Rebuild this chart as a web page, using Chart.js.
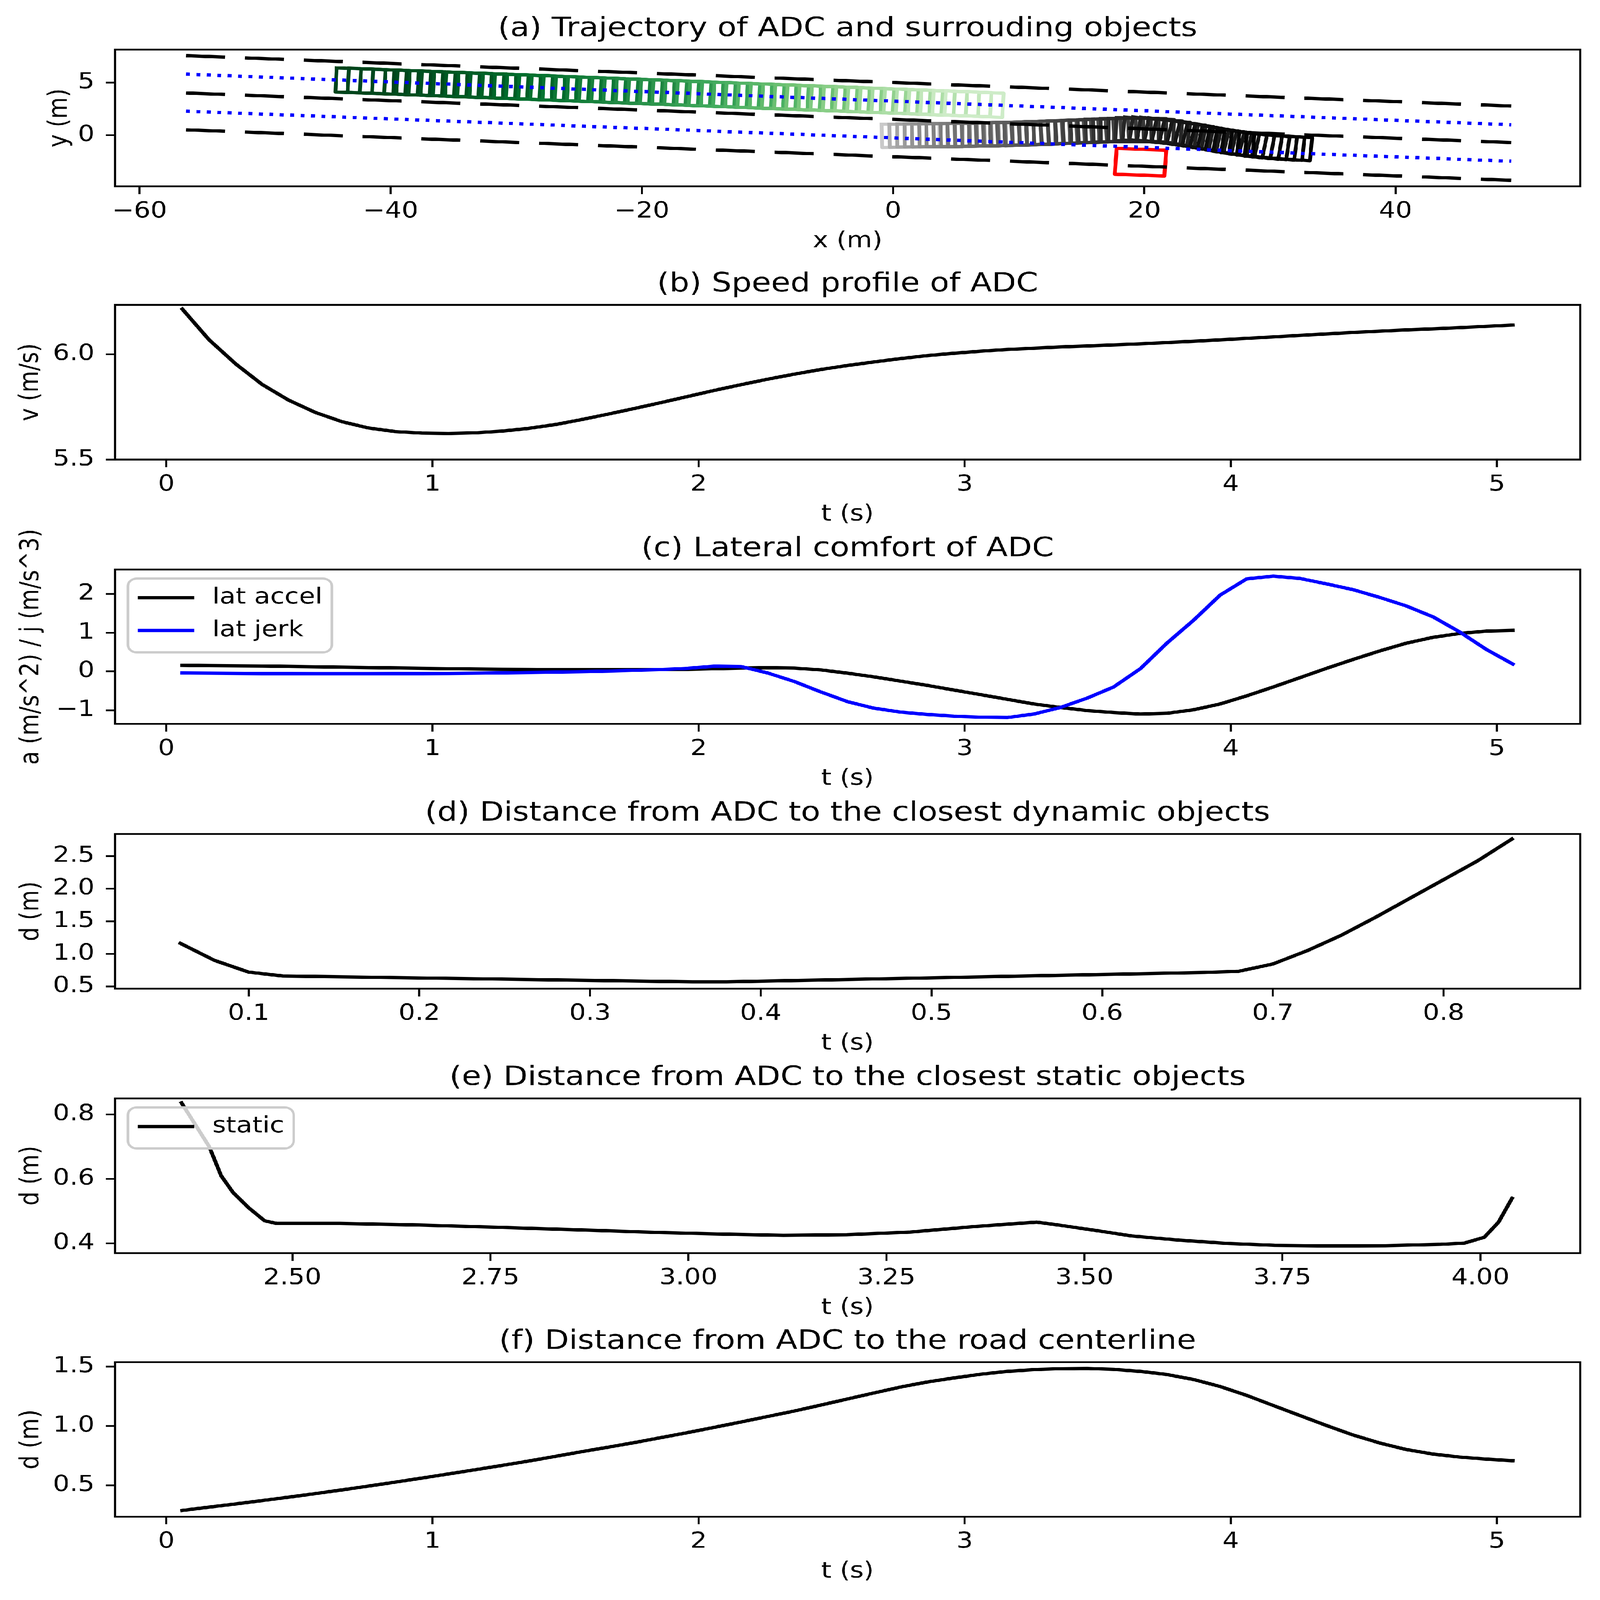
<!DOCTYPE html>
<html>
<head>
<meta charset="utf-8">
<script src="https://cdn.jsdelivr.net/npm/chart.js@4.4.1/dist/chart.umd.min.js"></script>
<style>
  html, body { margin: 0; padding: 0; background: #fff; overflow: hidden; }
  #page { position: absolute; left: 0; top: 0; width: 5078px; height: 6009px; transform-origin: 0 0; background: #fff; }
  #page canvas { position: absolute; left: 0; }
</style>
</head>
<body>
<div id="page">
<canvas id="cA"></canvas>
<canvas id="cB"></canvas>
<canvas id="cC"></canvas>
<canvas id="cD"></canvas>
<canvas id="cE"></canvas>
<canvas id="cF"></canvas>
</div>
<script>
'use strict';

// time grid of the ADC trajectory (s)
const tGrid = [0.06, 0.16, 0.26, 0.36, 0.46, 0.56, 0.66, 0.76, 0.86, 0.96,
  1.06, 1.16, 1.26, 1.36, 1.46, 1.56, 1.66, 1.76, 1.86, 1.96,
  2.06, 2.16, 2.26, 2.36, 2.46, 2.56, 2.66, 2.76, 2.86, 2.96,
  3.06, 3.16, 3.26, 3.36, 3.46, 3.56, 3.66, 3.76, 3.86, 3.96,
  4.06, 4.16, 4.26, 4.36, 4.46, 4.56, 4.66, 4.76, 4.86, 4.96, 5.06];

// (b) speed
const speed = [6.215, 6.07, 5.955, 5.857, 5.782, 5.724, 5.68, 5.65, 5.633, 5.626,
  5.624, 5.627, 5.635, 5.648, 5.666, 5.69, 5.716, 5.743, 5.771, 5.8,
  5.829, 5.856, 5.882, 5.906, 5.928, 5.947, 5.964, 5.98, 5.994, 6.005,
  6.015, 6.023, 6.029, 6.035, 6.04, 6.045, 6.05, 6.056, 6.062, 6.069,
  6.076, 6.083, 6.09, 6.097, 6.104, 6.11, 6.116, 6.121, 6.127, 6.133, 6.139];

// (c) lateral comfort
const latAccel = [0.16, 0.15, 0.145, 0.14, 0.13, 0.12, 0.11, 0.10, 0.09, 0.08,
  0.072, 0.063, 0.057, 0.052, 0.048, 0.046, 0.046, 0.047, 0.05, 0.055,
  0.07, 0.085, 0.095, 0.085, 0.04, -0.045, -0.14, -0.25, -0.36, -0.48,
  -0.60, -0.72, -0.84, -0.93, -1.01, -1.06, -1.10, -1.08, -0.99, -0.84,
  -0.63, -0.40, -0.16, 0.08, 0.31, 0.53, 0.73, 0.88, 0.98, 1.04, 1.06];
const latJerk = [-0.04, -0.045, -0.05, -0.055, -0.058, -0.06, -0.06, -0.06, -0.058, -0.055,
  -0.052, -0.045, -0.037, -0.028, -0.018, -0.005, 0.01, 0.028, 0.05, 0.08,
  0.135, 0.125, -0.04, -0.26, -0.53, -0.78, -0.95, -1.05, -1.11, -1.155,
  -1.18, -1.19, -1.10, -0.93, -0.69, -0.40, 0.07, 0.73, 1.32, 1.97,
  2.39, 2.46, 2.40, 2.26, 2.11, 1.91, 1.69, 1.41, 1.02, 0.57, 0.19];

// (d) closest dynamic object
const dynT = [0.06, 0.08, 0.10, 0.12, 0.36, 0.38, 0.66, 0.68, 0.70, 0.72, 0.74, 0.76, 0.78, 0.80, 0.82, 0.84];
const dynD = [1.162, 0.90, 0.72, 0.66, 0.57, 0.57, 0.714, 0.733, 0.845, 1.048, 1.285, 1.56, 1.85, 2.14, 2.43, 2.763];

// (e) closest static object
const staticT = [2.36, 2.395, 2.41, 2.425, 2.445, 2.465, 2.48, 2.56, 2.66, 2.76, 2.86, 2.96, 3.04, 3.12, 3.20,
  3.28, 3.36, 3.44, 3.47, 3.52, 3.56, 3.62, 3.68, 3.74, 3.81, 3.88, 3.95, 3.98, 4.005, 4.023, 4.04];
const staticD = [0.836, 0.70, 0.61, 0.558, 0.51, 0.47, 0.462, 0.462, 0.457, 0.450, 0.442, 0.434, 0.429, 0.425, 0.427,
  0.435, 0.452, 0.466, 0.456, 0.438, 0.423, 0.41, 0.40, 0.394, 0.392, 0.393, 0.397, 0.401, 0.419, 0.466, 0.54];

// (f) distance to road centerline
const centerDist = [0.29, 0.318, 0.345, 0.373, 0.402, 0.432, 0.463, 0.495, 0.528, 0.562,
  0.597, 0.632, 0.668, 0.705, 0.744, 0.784, 0.822, 0.861, 0.903, 0.945,
  0.989, 1.034, 1.08, 1.126, 1.176, 1.227, 1.278, 1.328, 1.37, 1.404,
  1.435, 1.459, 1.474, 1.482, 1.484, 1.476, 1.459, 1.433, 1.391, 1.332,
  1.257, 1.172, 1.088, 1.004, 0.924, 0.857, 0.802, 0.764, 0.739, 0.722, 0.708];

// (a) road lines, end points
const laneX = [-56.3, 49.2];
const laneTop = [7.57, 2.78];
const laneMid = [4.02, -0.69];
const laneBot = [0.52, -4.28];
const refUpper = [5.81, 1.0];
const refLower = [2.29, -2.47];

// (a) surrounding vehicle box centres
const greenX = [-42.05, -41.08, -40.11, -39.14, -38.17, -37.20, -36.23, -35.26, -34.29, -33.32,
  -32.35, -31.38, -30.41, -29.44, -28.47, -27.50, -26.53, -25.56, -24.59, -23.62,
  -22.65, -21.68, -20.71, -19.74, -18.77, -17.80, -16.83, -15.86, -14.89, -13.92,
  -12.95, -11.98, -11.01, -10.04, -9.07, -8.10, -7.13, -6.16, -5.19, -4.22,
  -3.25, -2.28, -1.31, -0.34, 0.63, 1.60, 2.57, 3.54, 4.51, 5.48, 6.45];
const greenY = [5.16, 5.12, 5.07, 5.03, 4.99, 4.94, 4.90, 4.85, 4.81, 4.77,
  4.72, 4.68, 4.63, 4.59, 4.55, 4.50, 4.46, 4.41, 4.37, 4.33,
  4.28, 4.24, 4.19, 4.15, 4.11, 4.06, 4.02, 3.97, 3.93, 3.89,
  3.84, 3.80, 3.75, 3.71, 3.67, 3.62, 3.58, 3.53, 3.49, 3.45,
  3.40, 3.36, 3.31, 3.27, 3.23, 3.18, 3.14, 3.09, 3.05, 3.01, 2.96];

// (a) ADC box centres
const adcX = [1.40, 2.02, 2.63, 3.22, 3.81, 4.39, 4.96, 5.53, 6.10, 6.66,
  7.22, 7.78, 8.35, 8.91, 9.48, 10.04, 10.61, 11.18, 11.76, 12.33,
  12.91, 13.50, 14.08, 14.67, 15.26, 15.85, 16.45, 17.04, 17.64, 18.24,
  18.84, 19.44, 20.04, 20.65, 21.25, 21.85, 22.46, 23.06, 23.67, 24.27,
  24.88, 25.49, 26.10, 26.70, 27.31, 27.92, 28.54, 29.15, 29.76, 30.37, 30.98];
const adcY = [-0.02, -0.01, 0.00, 0.00, 0.01, 0.02, 0.03, 0.04, 0.05, 0.065,
  0.08, 0.09, 0.11, 0.125, 0.14, 0.16, 0.18, 0.20, 0.23, 0.25,
  0.28, 0.30, 0.33, 0.36, 0.39, 0.41, 0.44, 0.46, 0.48, 0.49,
  0.50, 0.50, 0.49, 0.45, 0.39, 0.31, 0.22, 0.12, 0.01, -0.11,
  -0.23, -0.35, -0.47, -0.58, -0.69, -0.79, -0.88, -0.96, -1.03, -1.09, -1.14];

// (a) static obstacle outline
const obstX = [17.8, 21.75, 21.6, 17.65, 17.8];
const obstY = [-1.25, -1.42, -3.87, -3.7, -1.25];

// tick values
const ticksAx = [-60, -40, -20, 0, 20, 40];
const ticksAy = [0, 5];
const ticksT = [0, 1, 2, 3, 4, 5];
const ticksBy = [5.5, 6.0];
const ticksCy = [-1, 0, 1, 2];
const ticksDx = [0.1, 0.2, 0.3, 0.4, 0.5, 0.6, 0.7, 0.8];
const ticksDy = [0.5, 1.0, 1.5, 2.0, 2.5];
const ticksEx = [2.5, 2.75, 3.0, 3.25, 3.5, 3.75, 4.0];
const ticksEy = [0.4, 0.6, 0.8];
const ticksFy = [0.5, 1.0, 1.5];

// sizes
const carLen = 4.6, greenWid = 2.3, adcWid = 2.2;

// the browser window may be smaller than 5078 x 6009: stretch the page onto it
document.getElementById('page').style.transform =
  'scale(' + (window.innerWidth / 5078) + ',' + (window.innerHeight / 6009) + ')';

const FONT = "'DejaVu Sans'";
Chart.defaults.font.family = FONT;
Chart.defaults.color = '#000';

const GREENS = [[247,252,245],[229,245,224],[199,233,192],[161,217,155],[116,196,118],[65,171,93],[35,139,69],[0,109,44],[0,68,27]];
const GREYS = [[255,255,255],[240,240,240],[217,217,217],[189,189,189],[150,150,150],[115,115,115],[82,82,82],[37,37,37],[0,0,0]];
function cmap(stops, v) {
  const n = stops.length - 1;
  const p = Math.min(Math.max(v, 0), 1) * n;
  const k = Math.min(Math.floor(p), n - 1);
  const f = p - k;
  const c = stops[k].map((s, j) => Math.round(s + (stops[k + 1][j] - s) * f));
  return 'rgb(' + c.join(',') + ')';
}

function fmt(v, dec) {
  const s = Math.abs(v).toFixed(dec);
  return (v < 0 ? '\u2212' : '') + s;
}

const pts = (xs, ys) => xs.map((x, i) => ({x: x, y: ys[i]}));

// rectangle outline around a centre, heading taken from neighbouring centres
function boxes(xs, ys, len, wid) {
  return xs.map((cx, i) => {
    const a = Math.max(i - 1, 0), b = Math.min(i + 1, xs.length - 1);
    let hx = xs[b] - xs[a], hy = ys[b] - ys[a];
    const n = Math.hypot(hx, hy); hx /= n; hy /= n;
    const px = -hy, py = hx, l = len / 2, w = wid / 2;
    return [[-l, w], [l, w], [l, -w], [-l, -w], [-l, w]]
      .map(([u, v]) => ({x: cx + u * hx + v * px, y: ys[i] + u * hy + v * py}));
  });
}

function lineDs(data, color, width, extra) {
  return Object.assign({
    data: data, showLine: true, borderColor: color, backgroundColor: color,
    borderWidth: width, pointRadius: 0, pointHoverRadius: 0, tension: 0,
    borderCapStyle: 'square', borderJoinStyle: 'round', fill: false
  }, extra || {});
}

const framePlugin = {
  id: 'frame',
  afterDatasetsDraw(chart) {
    const {ctx, chartArea: a} = chart;
    ctx.save();
    ctx.lineWidth = 6.5;
    ctx.strokeStyle = '#000';
    ctx.strokeRect(a.left, a.top, a.right - a.left, a.bottom - a.top);
    ctx.restore();
  }
};

const panelText = {
  id: 'panelText',
  afterDraw(chart, args, o) {
    const {ctx, chartArea: a} = chart;
    ctx.save();
    ctx.fillStyle = '#000';
    ctx.font = '100px ' + FONT;
    ctx.textAlign = 'center';
    ctx.textBaseline = 'alphabetic';
    ctx.fillText(o.title, (a.left + a.right) / 2, a.top - 50);
    ctx.font = '83px ' + FONT;
    ctx.translate(o.ylabX, (a.top + a.bottom) / 2);
    ctx.rotate(-Math.PI / 2);
    ctx.textBaseline = 'middle';
    ctx.fillText(o.ylabel, 0, 0);
    ctx.restore();
  }
};

const boxLegend = {
  id: 'boxLegend',
  afterDraw(chart, args, o) {
    if (!o.items) return;
    const {ctx, chartArea: a} = chart;
    const ds = chart.data.datasets;
    ctx.save();
    ctx.font = '83px ' + FONT;
    const tw = Math.max(...o.items.map(it => ctx.measureText(ds[it].label).width));
    const x0 = a.left + 41, y0 = a.top + 34;
    const w = 298 + tw, h = 72 + 123 * (o.items.length - 1) + 82;
    ctx.beginPath();
    ctx.roundRect(x0, y0, w, h, 28);
    ctx.fillStyle = 'rgba(255,255,255,0.8)';
    ctx.fill();
    ctx.lineWidth = 8;
    ctx.strokeStyle = '#cccccc';
    ctx.stroke();
    o.items.forEach((it, k) => {
      const yy = y0 + 72 + 123 * k;
      ctx.beginPath();
      ctx.moveTo(x0 + 38, yy);
      ctx.lineTo(x0 + 204, yy);
      ctx.lineWidth = 12.5;
      ctx.lineCap = 'square';
      ctx.strokeStyle = ds[it].borderColor;
      ctx.stroke();
      ctx.fillStyle = '#000';
      ctx.textAlign = 'left';
      ctx.textBaseline = 'middle';
      ctx.fillText(ds[it].label, x0 + 268, yy);
    });
    ctx.restore();
  }
};

const tickGrid = {display: true, drawOnChartArea: false, drawTicks: true, tickLength: 29, tickWidth: 6.5, tickColor: '#000'};

function axisX(min, max, ticks, dec, label) {
  return {
    type: 'linear', position: 'bottom', min: min, max: max,
    afterBuildTicks: s => { s.ticks = ticks.map(v => ({value: v})); },
    afterFit: s => { s.height = 260; },
    grid: tickGrid,
    border: {display: false},
    ticks: {font: {family: FONT, size: 83}, color: '#000', padding: 17, maxRotation: 0, minRotation: 0,
      autoSkip: false, callback: v => fmt(v, dec)},
    title: {display: true, text: label, font: {family: FONT, size: 83}, color: '#000', padding: {top: 0, bottom: 3}}
  };
}

function axisY(min, max, ticks, dec) {
  return {
    type: 'linear', position: 'left', min: min, max: max,
    afterBuildTicks: s => { s.ticks = ticks.map(v => ({value: v})); },
    afterFit: s => { s.width = 365; },
    grid: tickGrid,
    border: {display: false},
    ticks: {font: {family: FONT, size: 83}, color: '#000', padding: 36, autoSkip: false, callback: v => fmt(v, dec)}
  };
}

function panel(id, top, h, datasets, sx, sy, text, legend) {
  const cv = document.getElementById(id);
  cv.width = 5078;
  cv.height = 184 + h + 260;
  cv.style.width = '5078px';
  cv.style.height = cv.height + 'px';
  cv.style.top = (top - 184) + 'px';
  return new Chart(cv, {
    type: 'scatter',
    data: {datasets: datasets},
    options: {
      responsive: false, animation: false, devicePixelRatio: 1,
      layout: {padding: {left: 0, right: 63, top: 184, bottom: 0}},
      plugins: {legend: {display: false}, tooltip: {enabled: false}, panelText: text, boxLegend: legend || {}},
      scales: {x: sx, y: sy}
    },
    plugins: [framePlugin, panelText, boxLegend]
  });
}

// (a) trajectory
const dsA = [];
const dashed = {borderDash: [124, 63], borderCapStyle: 'butt', order: 0};
const dotted = {borderDash: [12.5, 20.6], borderCapStyle: 'butt', order: 0};
dsA.push(lineDs(pts(laneX, laneTop), '#000', 12.5, dashed));
dsA.push(lineDs(pts(laneX, laneMid), '#000', 12.5, dashed));
dsA.push(lineDs(pts(laneX, laneBot), '#000', 12.5, dashed));
dsA.push(lineDs(pts(laneX, refUpper), '#0000ff', 12.5, dotted));
dsA.push(lineDs(pts(laneX, refLower), '#0000ff', 12.5, dotted));
dsA.push(lineDs(pts(obstX, obstY), '#ff0000', 12.5, {order: 1}));
boxes(adcX, adcY, carLen, adcWid).forEach((b, i) => {
  const c = cmap(GREYS, 0.32 + 0.68 * Math.sqrt(i / (adcX.length - 1)));
  dsA.push(lineDs(b, c, 12, {order: 2000 - i}));
});
boxes(greenX, greenY, carLen, greenWid).forEach((b, i) => {
  const c = cmap(GREENS, 1 - 0.78 * Math.pow(i / (greenX.length - 1), 1.5));
  dsA.push(lineDs(b, c, 12, {order: 3000 - i}));
});
panel('cA', 186, 514, dsA,
  axisX(-61.95, 54.7, ticksAx, 0, 'x (m)'), axisY(-4.86, 8.15, ticksAy, 0),
  {title: '(a) Trajectory of ADC and surrouding objects', ylabel: 'y (m)', ylabX: 190});

// (b) speed
panel('cB', 1145, 581, [lineDs(pts(tGrid, speed), '#000', 12.5)],
  axisX(-0.193, 5.313, ticksT, 0, 't (s)'), axisY(5.5, 6.235, ticksBy, 1),
  {title: '(b) Speed profile of ADC', ylabel: 'v (m/s)', ylabX: 98});

// (c) lateral comfort
panel('cC', 2139, 580, [
    lineDs(pts(tGrid, latAccel), '#000', 12.5, {label: 'lat accel', order: 1}),
    lineDs(pts(tGrid, latJerk), '#0000ff', 12.5, {label: 'lat jerk', order: 0})
  ],
  axisX(-0.193, 5.313, ticksT, 0, 't (s)'), axisY(-1.356, 2.63, ticksCy, 0),
  {title: '(c) Lateral comfort of ADC', ylabel: 'a (m/s^2) / j (m/s^3)', ylabX: 100},
  {items: [0, 1]});

// (d) dynamic objects
panel('cD', 3132, 581, [lineDs(pts(dynT, dynD), '#000', 12.5)],
  axisX(0.0217, 0.88, ticksDx, 1, 't (s)'), axisY(0.466, 2.842, ticksDy, 1),
  {title: '(d) Distance from ADC to the closest dynamic objects', ylabel: 'd (m)', ylabX: 100});

// (e) static objects
panel('cE', 4125, 581, [lineDs(pts(staticT, staticD), '#000', 12.5, {label: 'static'})],
  axisX(2.276, 4.126, ticksEx, 2, 't (s)'), axisY(0.37, 0.85, ticksEy, 1),
  {title: '(e) Distance from ADC to the closest static objects', ylabel: 'd (m)', ylabX: 100},
  {items: [0]});

// (f) road centerline
panel('cF', 5116, 580, [lineDs(pts(tGrid, centerDist), '#000', 12.5)],
  axisX(-0.193, 5.313, ticksT, 0, 't (s)'), axisY(0.238, 1.536, ticksFy, 1),
  {title: '(f) Distance from ADC to the road centerline', ylabel: 'd (m)', ylabX: 100});
</script>
</body>
</html>
